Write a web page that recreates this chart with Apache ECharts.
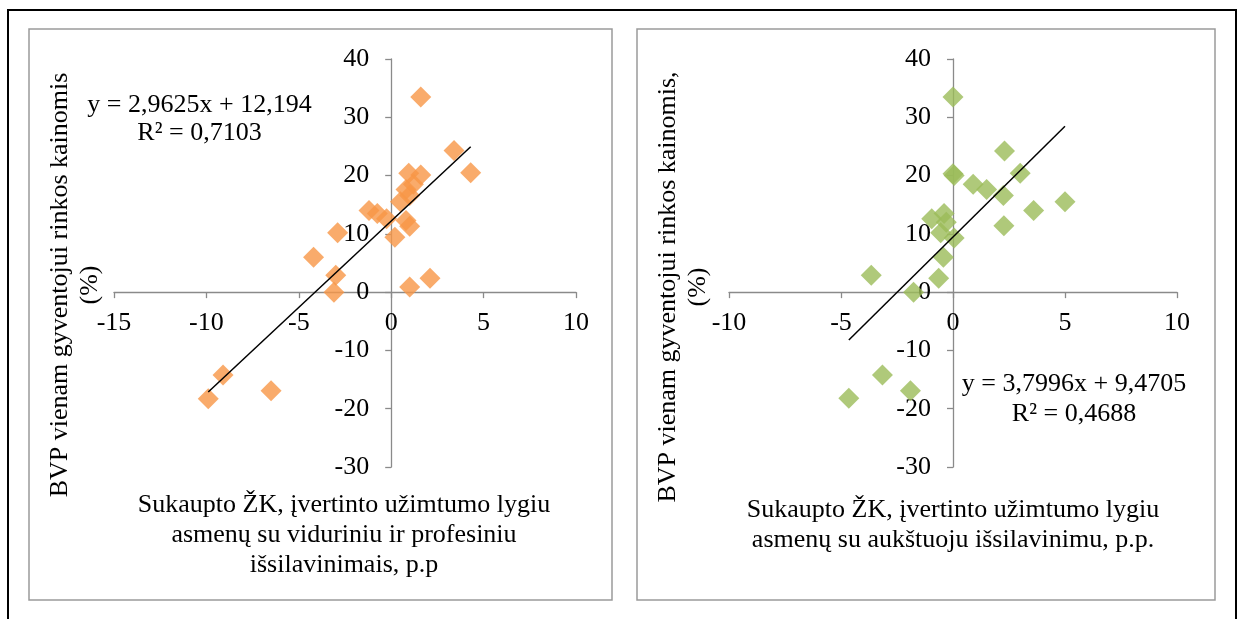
<!DOCTYPE html>
<html>
<head>
<meta charset="utf-8">
<script src="https://cdn.jsdelivr.net/npm/echarts@6/dist/echarts.min.js"></script>
<style>
html,body{margin:0;padding:0;background:#fff;}
#c{width:1242px;height:619px;}
</style>
</head>
<body>
<div id="c"></div>
<script>
// ---- data ----
const leftX  = [1.6, 3.4, 4.3, 0.95, 1.6, 1.2, 0.8, 1.0, 0.5, -1.2, -0.75, -0.25, 0.8, 1.0, 0.2, -2.9, -4.2, -3.0, -3.1, 1.0, 2.1, -9.1, -9.9, -6.5];
const leftY  = [33.5, 24.3, 20.5, 20.4, 20.1, 18.5, 17.6, 16.6, 15.5, 14.0, 13.5, 12.6, 12.3, 11.3, 9.4, 10.2, 6.0, 2.9, 0.0, 0.9, 2.4, -14.2, -18.3, -16.9];
const rightX = [0.0, 2.3, 0.0, 0.05, 3.0, 0.9, 1.5, 2.25, 5.0, 3.6, 2.27, -0.4, -0.95, -0.3, -0.55, 0.05, -0.43, -0.64, -3.65, -1.76, -3.15, -4.65, -1.9];
const rightY = [33.5, 24.2, 20.3, 20.0, 20.4, 18.5, 17.6, 16.6, 15.5, 14.0, 11.4, 13.5, 12.6, 12.0, 10.2, 9.3, 6.0, 2.4, 2.9, 0.0, -14.2, -18.2, -16.9];

const trendSlopes     = [2.9625, 3.7996];
const trendIntercepts = [12.194, 9.4705];
const equationTexts   = ['y = 2,9625x + 12,194', 'y = 3,7996x + 9,4705'];
const r2Texts         = ['R² = 0,7103', 'R² = 0,4688'];

const xAxisMins = [-15, -10];
const xAxisMaxs = [10, 10];
const yAxisMin = -30, yAxisMax = 40;

const yTitles = [
  'BVP vienam gyventojui rinkos kainomis\n(%)',
  'BVP vienam gyventojui rinkos kainomis,\n(%)'
];
const xTitles = [
  'Sukaupto ŽK, įvertinto užimtumo lygiu\nasmenų su viduriniu ir profesiniu\nišsilavinimais, p.p',
  'Sukaupto ŽK, įvertinto užimtumo lygiu\nasmenų su aukštuoju išsilavinimu, p.p.'
];
const seriesColors = ['#F79646', '#9BBB59'];

// ---- chart ----
const FONT = '"Liberation Serif", "Times New Roman", serif';
const grids = [
  {left: 114, top: 59, width: 462, height: 408},
  {left: 729, top: 59, width: 448, height: 408}
];
const chart = echarts.init(document.getElementById('c'), null, {renderer: 'canvas'});

function trend(xs, i) {
  const mn = Math.min(...xs), mx = Math.max(...xs);
  return [[mn, trendSlopes[i] * mn + trendIntercepts[i]], [mx, trendSlopes[i] * mx + trendIntercepts[i]]];
}

// axes cross at zero: shift each axis from its grid edge to the zero position of the other axis
function xAxisCfg(i) {
  const off = -((0 - yAxisMin) / (yAxisMax - yAxisMin)) * grids[i].height;
  return {
    type: 'value', gridIndex: i, min: xAxisMins[i], max: xAxisMaxs[i], interval: 5,
    position: 'bottom', offset: off,
    axisLine: {show: true, onZero: false, lineStyle: {color: '#8a8a8a', width: 1.3}},
    axisTick: {show: true, length: 6, lineStyle: {color: '#8a8a8a', width: 1.3}},
    axisLabel: {color: '#000', fontFamily: FONT, fontSize: 26, margin: 18, showMinLabel: true, showMaxLabel: true},
    splitLine: {show: false}
  };
}
function yAxisCfg(i) {
  const off = -((0 - xAxisMins[i]) / (xAxisMaxs[i] - xAxisMins[i])) * grids[i].width;
  return {
    type: 'value', gridIndex: i, min: yAxisMin, max: yAxisMax, interval: 10,
    position: 'left', offset: off,
    axisLine: {show: true, onZero: false, lineStyle: {color: '#8a8a8a', width: 1.3}},
    axisTick: {show: true, length: 6, lineStyle: {color: '#8a8a8a', width: 1.3}},
    axisLabel: {color: '#000', fontFamily: FONT, fontSize: 26, margin: 22, showMinLabel: true, showMaxLabel: true},
    splitLine: {show: false}
  };
}

function txt(text, x, y, lh, rot) {
  return {
    type: 'text', x: x, y: y, rotation: rot || 0, z: 10,
    style: {
      text: text, fontFamily: FONT, fontSize: 26, fill: '#000',
      align: 'center', verticalAlign: 'middle',
      textAlign: 'center', textVerticalAlign: 'middle',
      lineHeight: lh
    }
  };
}

const option = {
  animation: false,
  backgroundColor: '#fff',
  grid: grids,
  xAxis: [xAxisCfg(0), xAxisCfg(1)],
  yAxis: [yAxisCfg(0), yAxisCfg(1)],
  series: [
    {type: 'scatter', xAxisIndex: 0, yAxisIndex: 0, symbol: 'diamond', symbolSize: 21,
     itemStyle: {color: seriesColors[0]}, z: 2,
     data: leftX.map((x, i) => [x, leftY[i]])},
    {type: 'line', xAxisIndex: 0, yAxisIndex: 0, symbol: 'none', silent: true, z: 3,
     lineStyle: {color: '#000', width: 1.5}, data: trend(leftX, 0)},
    {type: 'scatter', xAxisIndex: 1, yAxisIndex: 1, symbol: 'diamond', symbolSize: 21,
     itemStyle: {color: seriesColors[1]}, z: 2,
     data: rightX.map((x, i) => [x, rightY[i]])},
    {type: 'line', xAxisIndex: 1, yAxisIndex: 1, symbol: 'none', silent: true, z: 3,
     lineStyle: {color: '#000', width: 1.5}, data: trend(rightX, 1)}
  ],
  graphic: [
    {type: 'rect', z: 0, shape: {x: 8, y: 10, width: 1228, height: 640},
     style: {fill: 'none', stroke: '#000', lineWidth: 2}},
    {type: 'rect', z: 0, shape: {x: 29, y: 29, width: 583, height: 571},
     style: {fill: 'none', stroke: '#9a9a9a', lineWidth: 1.5}},
    {type: 'rect', z: 0, shape: {x: 637, y: 29, width: 578, height: 571},
     style: {fill: 'none', stroke: '#9a9a9a', lineWidth: 1.5}},
    txt(equationTexts[0] + '\n' + r2Texts[0], 199.5, 119, 28),
    txt(equationTexts[1] + '\n' + r2Texts[1], 1074, 399, 29.5),
    txt(xTitles[0], 344, 535, 30),
    txt(xTitles[1], 953, 525, 30),
    txt(yTitles[0], 75, 285, 30, Math.PI / 2),
    txt(yTitles[1], 683, 287, 30, Math.PI / 2)
  ]
};
chart.setOption(option);
</script>
</body>
</html>
